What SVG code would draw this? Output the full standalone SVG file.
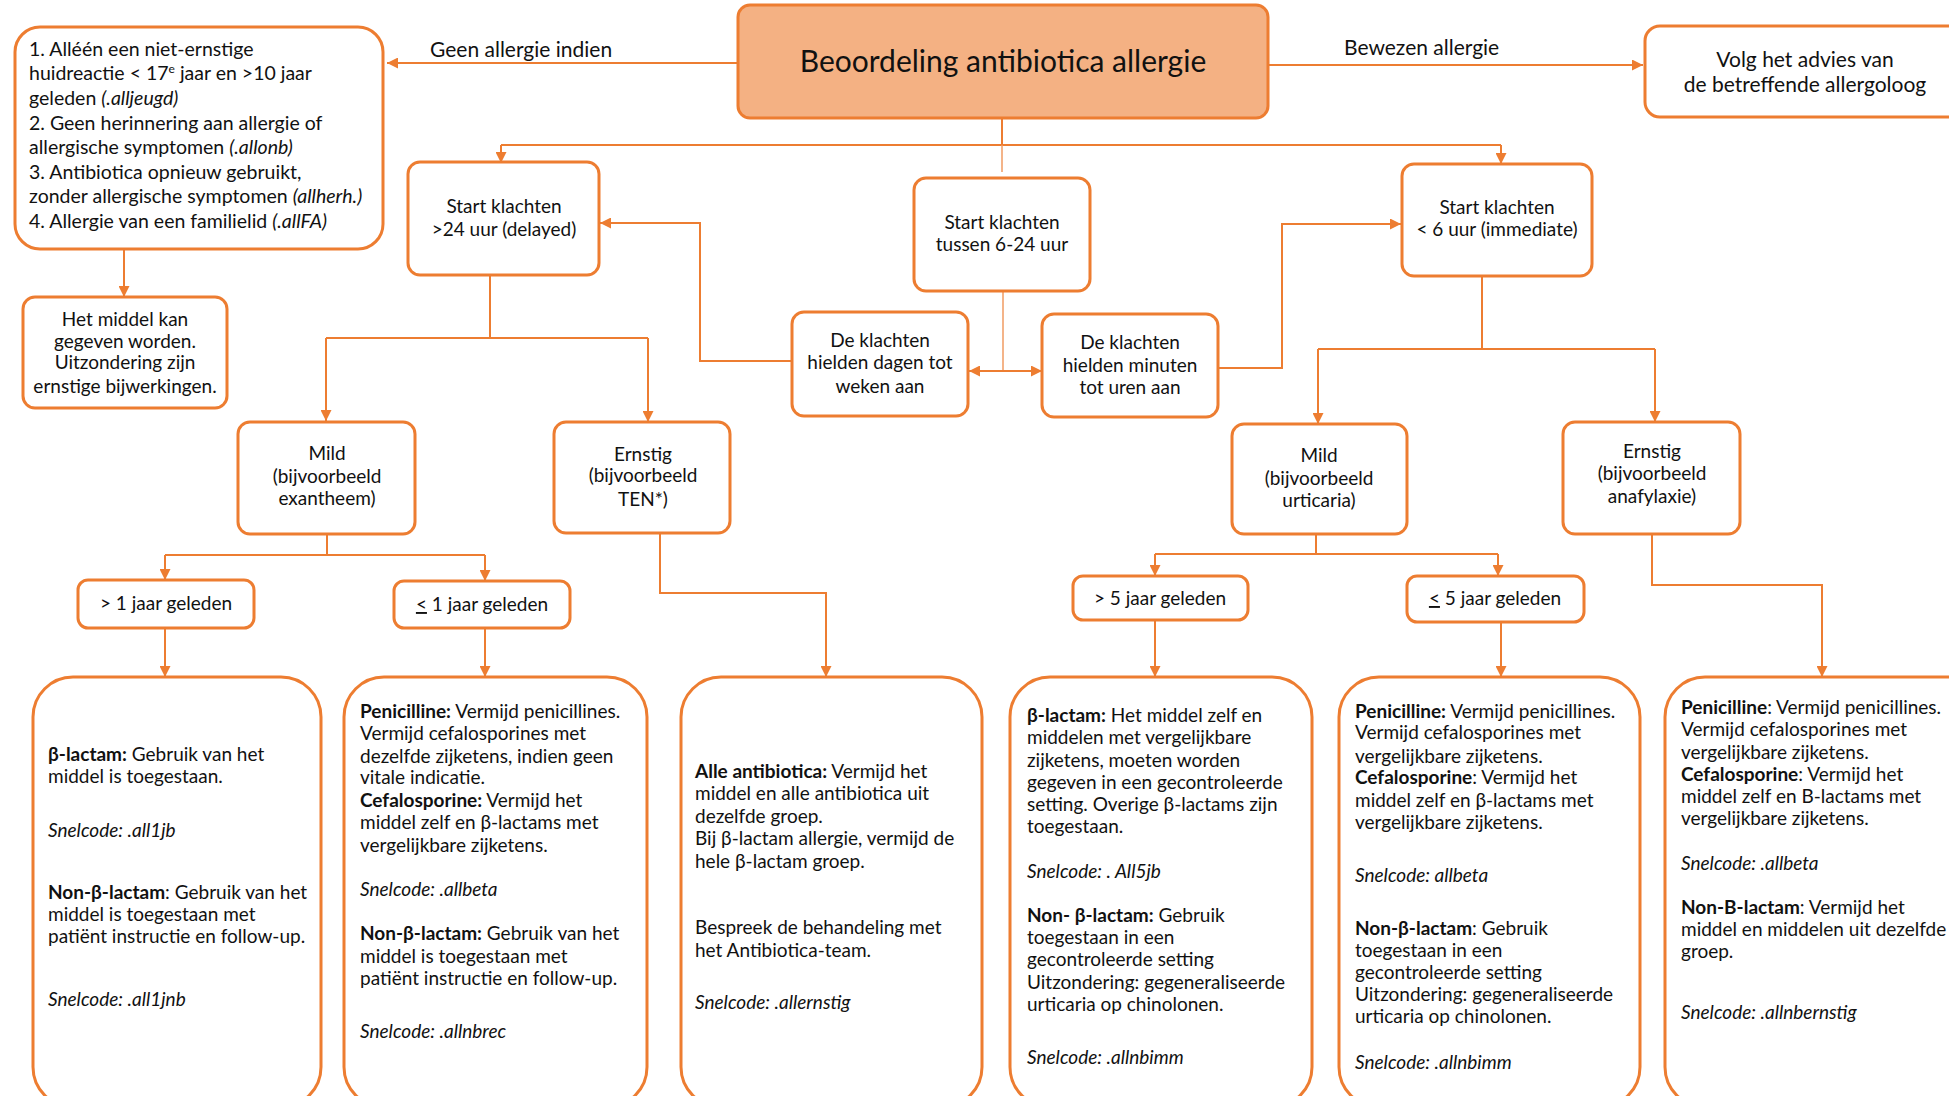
<svg xmlns="http://www.w3.org/2000/svg" width="1949" height="1096" viewBox="0 0 1949 1096">
<style>
text{font-family:Lato,"Liberation Sans",sans-serif;font-size:19px;fill:#111}
.c{text-anchor:middle}
.b{font-weight:bold}
.i{font-style:italic}
.box{fill:#fff;stroke:#ED7D31;stroke-width:3}
.ln{fill:none;stroke:#ED7D31;stroke-width:2}
.thin{fill:none;stroke:#F19B62;stroke-width:1.5}
text.lbl{font-size:21px}
text.title{font-size:30px}
text.tl{font-size:19.5px}
</style>
<defs>
<marker id="ah" viewBox="0 0 10 10" refX="10" refY="5" markerWidth="11" markerHeight="11" markerUnits="userSpaceOnUse" orient="auto">
<path d="M0,0 L10,5 L0,10 z" fill="#ED7D31"/>
</marker>
</defs>
<g id="connectors">
<path class="ln" d="M738 63 H387" marker-end="url(#ah)"/>
<path class="ln" d="M1268 65 H1643" marker-end="url(#ah)"/>
<path class="ln" d="M1002 118 V145" stroke-width="3"/>
<path class="ln" d="M501 145 H1501"/>
<path class="ln" d="M501 145 V163" marker-end="url(#ah)"/>
<path class="ln" d="M1501 145 V164" marker-end="url(#ah)"/>
<path class="thin" d="M1002 145 V172"/>
<path class="thin" d="M1003 291 V371"/>
<path class="ln" d="M1003 371 H969" marker-end="url(#ah)"/>
<path class="ln" d="M1003 371 H1042" marker-end="url(#ah)"/>
<path class="ln" d="M792 361 H700 V223 H600" marker-end="url(#ah)"/>
<path class="ln" d="M1218 368 H1282 V224 H1401" marker-end="url(#ah)"/>
<path class="ln" d="M490 275 V338"/>
<path class="ln" d="M326 338 H648"/>
<path class="ln" d="M326 338 V421" marker-end="url(#ah)"/>
<path class="ln" d="M648 338 V422" marker-end="url(#ah)"/>
<path class="ln" d="M327 534 V555"/>
<path class="ln" d="M165 555 H485"/>
<path class="ln" d="M165 555 V580" marker-end="url(#ah)"/>
<path class="ln" d="M485 555 V581" marker-end="url(#ah)"/>
<path class="ln" d="M165 628 V677" marker-end="url(#ah)"/>
<path class="ln" d="M485 628 V677" marker-end="url(#ah)"/>
<path class="ln" d="M660 533 V593 H826 V677" marker-end="url(#ah)"/>
<path class="ln" d="M1482 276 V349"/>
<path class="ln" d="M1318 349 H1655"/>
<path class="ln" d="M1318 349 V424" marker-end="url(#ah)"/>
<path class="ln" d="M1655 349 V422" marker-end="url(#ah)"/>
<path class="ln" d="M1316 534 V554"/>
<path class="ln" d="M1155 554 H1498"/>
<path class="ln" d="M1155 554 V576" marker-end="url(#ah)"/>
<path class="ln" d="M1498 554 V576" marker-end="url(#ah)"/>
<path class="ln" d="M1155 620 V677" marker-end="url(#ah)"/>
<path class="ln" d="M1501 622 V677" marker-end="url(#ah)"/>
<path class="ln" d="M1652 534 V585 H1822 V677" marker-end="url(#ah)"/>
<path class="ln" d="M124 249 V297" marker-end="url(#ah)"/>
</g>
<g id="edge-labels">
<text class="lbl" x="430" y="57">Geen allergie indien</text>
<text class="lbl" x="1344" y="55">Bewezen allergie</text>
</g>
<g id="main">
<rect x="738" y="5" width="530" height="113" rx="12" fill="#F4B183" stroke="#ED7D31" stroke-width="3"/>
<text class="c title" x="1003" y="72">Beoordeling antibiotica allergie</text>
</g>
<g id="geen-allergie">
<rect class="box" x="15" y="27" width="368" height="222" rx="25"/>
<text class="tl" x="29" y="56">1. Alléén een niet-ernstige</text>
<text class="tl" x="29" y="80">huidreactie &lt; 17<tspan dy="-7" font-size="12">e</tspan><tspan dy="7"> jaar en &gt;10 jaar</tspan></text>
<text class="tl" x="29" y="105">geleden <tspan class="i">(.alljeugd)</tspan></text>
<text class="tl" x="29" y="130">2. Geen herinnering aan allergie of</text>
<text class="tl" x="29" y="154">allergische symptomen <tspan class="i">(.allonb)</tspan></text>
<text class="tl" x="29" y="179">3. Antibiotica opnieuw gebruikt,</text>
<text class="tl" x="29" y="203">zonder allergische symptomen <tspan class="i">(allherh.)</tspan></text>
<text class="tl" x="29" y="228">4. Allergie van een familielid <tspan class="i">(.allFA)</tspan></text>
</g>
<g id="allergoloog">
<rect class="box" x="1645" y="26" width="360" height="91" rx="15"/>
<text class="c lbl" x="1805" y="67">Volg het advies van</text>
<text class="c lbl" x="1805" y="92">de betreffende allergoloog</text>
</g>
<g id="middel-kan">
<rect class="box" x="23" y="297" width="204" height="111" rx="12"/>
<text class="c" x="125" y="326">Het middel kan</text>
<text class="c" x="125" y="348">gegeven worden.</text>
<text class="c" x="125" y="369">Uitzondering zijn</text>
<text class="c" x="125" y="393">ernstige bijwerkingen.</text>
</g>
<g id="delayed">
<rect class="box" x="408" y="162" width="191" height="113" rx="12"/>
<text class="c" x="504" y="213">Start klachten</text>
<text class="c" x="504" y="236">&gt;24 uur (delayed)</text>
</g>
<g id="tussen">
<rect class="box" x="914" y="178" width="176" height="113" rx="12"/>
<text class="c" x="1002" y="229">Start klachten</text>
<text class="c" x="1002" y="251">tussen 6-24 uur</text>
</g>
<g id="immediate">
<rect class="box" x="1402" y="164" width="190" height="112" rx="12"/>
<text class="c" x="1497" y="214">Start klachten</text>
<text class="c" x="1497" y="236">&lt; 6 uur (immediate)</text>
</g>
<g id="dagen">
<rect class="box" x="792" y="312" width="176" height="104" rx="12"/>
<text class="c" x="880" y="347">De klachten</text>
<text class="c" x="880" y="369">hielden dagen tot</text>
<text class="c" x="880" y="393">weken aan</text>
</g>
<g id="minuten">
<rect class="box" x="1042" y="314" width="176" height="103" rx="12"/>
<text class="c" x="1130" y="349">De klachten</text>
<text class="c" x="1130" y="372">hielden minuten</text>
<text class="c" x="1130" y="394">tot uren aan</text>
</g>
<g id="mild-exantheem">
<rect class="box" x="238" y="422" width="177" height="112" rx="12"/>
<text class="c" x="327" y="460">Mild</text>
<text class="c" x="327" y="483">(bijvoorbeeld</text>
<text class="c" x="327" y="505">exantheem)</text>
</g>
<g id="ernstig-ten">
<rect class="box" x="554" y="422" width="176" height="111" rx="12"/>
<text class="c" x="643" y="461">Ernstig</text>
<text class="c" x="643" y="482">(bijvoorbeeld</text>
<text class="c" x="643" y="506">TEN*)</text>
</g>
<g id="mild-urticaria">
<rect class="box" x="1232" y="424" width="175" height="110" rx="12"/>
<text class="c" x="1319" y="462">Mild</text>
<text class="c" x="1319" y="485">(bijvoorbeeld</text>
<text class="c" x="1319" y="507">urticaria)</text>
</g>
<g id="ernstig-anafylaxie">
<rect class="box" x="1563" y="422" width="177" height="112" rx="12"/>
<text class="c" x="1652" y="458">Ernstig</text>
<text class="c" x="1652" y="480">(bijvoorbeeld</text>
<text class="c" x="1652" y="503">anafylaxie)</text>
</g>
<g id="meer-1-jaar">
<rect class="box" x="78" y="580" width="176" height="48" rx="10"/>
<text class="c" x="166" y="610">&gt; 1 jaar geleden</text>
</g>
<g id="max-1-jaar">
<rect class="box" x="394" y="581" width="176" height="47" rx="10"/>
<text class="c" x="482" y="611"><tspan text-decoration="underline">&lt;</tspan> 1 jaar geleden</text>
</g>
<g id="meer-5-jaar">
<rect class="box" x="1073" y="576" width="175" height="44" rx="10"/>
<text class="c" x="1160" y="605">&gt; 5 jaar geleden</text>
</g>
<g id="max-5-jaar">
<rect class="box" x="1407" y="576" width="177" height="46" rx="10"/>
<text class="c" x="1495" y="605"><tspan text-decoration="underline">&lt;</tspan> 5 jaar geleden</text>
</g>
<g id="advies-1">
<rect class="box" x="33" y="677" width="288" height="430" rx="40"/>
<text x="48" y="761"><tspan class="b">β-lactam:</tspan> Gebruik van het</text>
<text x="48" y="783">middel is toegestaan.</text>
<text x="48" y="837" class="i">Snelcode: .all1jb</text>
<text x="48" y="899"><tspan class="b">Non-β-lactam</tspan>: Gebruik van het</text>
<text x="48" y="921">middel is toegestaan met</text>
<text x="48" y="943">patiënt instructie en follow-up.</text>
<text x="48" y="1006" class="i">Snelcode: .all1jnb</text>
</g>
<g id="advies-2">
<rect class="box" x="344" y="677" width="303" height="430" rx="40"/>
<text x="360" y="718"><tspan class="b">Penicilline:</tspan>  Vermijd penicillines.</text>
<text x="360" y="740">Vermijd cefalosporines met</text>
<text x="360" y="763">dezelfde zijketens, indien geen</text>
<text x="360" y="784">vitale indicatie.</text>
<text x="360" y="807"><tspan class="b">Cefalosporine:</tspan> Vermijd het</text>
<text x="360" y="829">middel zelf en β-lactams met</text>
<text x="360" y="852">vergelijkbare zijketens.</text>
<text x="360" y="896" class="i">Snelcode: .allbeta</text>
<text x="360" y="940"><tspan class="b">Non-β-lactam:</tspan> Gebruik van het</text>
<text x="360" y="963">middel is toegestaan met</text>
<text x="360" y="985">patiënt instructie en follow-up.</text>
<text x="360" y="1038" class="i">Snelcode: .allnbrec</text>
</g>
<g id="advies-3">
<rect class="box" x="681" y="677" width="301" height="430" rx="40"/>
<text x="695" y="778"><tspan class="b">Alle antibiotica:</tspan> Vermijd het</text>
<text x="695" y="800">middel en alle antibiotica uit</text>
<text x="695" y="823">dezelfde groep.</text>
<text x="695" y="845">Bij β-lactam allergie, vermijd de</text>
<text x="695" y="868">hele β-lactam groep.</text>
<text x="695" y="934">Bespreek de behandeling met</text>
<text x="695" y="957">het Antibiotica-team.</text>
<text x="695" y="1009" class="i">Snelcode: .allernstig</text>
</g>
<g id="advies-4">
<rect class="box" x="1010" y="677" width="302" height="430" rx="40"/>
<text x="1027" y="722"> <tspan class="b">β-lactam:</tspan> Het middel zelf en</text>
<text x="1027" y="744">middelen met vergelijkbare</text>
<text x="1027" y="767">zijketens, moeten worden</text>
<text x="1027" y="789">gegeven in een gecontroleerde</text>
<text x="1027" y="811">setting. Overige β-lactams zijn</text>
<text x="1027" y="833">toegestaan.</text>
<text x="1027" y="878" class="i">Snelcode: . All5jb</text>
<text x="1027" y="922"><tspan class="b">Non- β-lactam:</tspan> Gebruik</text>
<text x="1027" y="944">toegestaan in een</text>
<text x="1027" y="966">gecontroleerde setting</text>
<text x="1027" y="989">Uitzondering: gegeneraliseerde</text>
<text x="1027" y="1011">urticaria op chinolonen.</text>
<text x="1027" y="1064" class="i">Snelcode: .allnbimm</text>
</g>
<g id="advies-5">
<rect class="box" x="1339" y="677" width="301" height="430" rx="40"/>
<text x="1355" y="718"><tspan class="b">Penicilline:</tspan> Vermijd penicillines.</text>
<text x="1355" y="739">Vermijd cefalosporines met</text>
<text x="1355" y="763">vergelijkbare zijketens.</text>
<text x="1355" y="784"><tspan class="b">Cefalosporine</tspan>: Vermijd het</text>
<text x="1355" y="807">middel zelf en β-lactams met</text>
<text x="1355" y="829">vergelijkbare zijketens.</text>
<text x="1355" y="882" class="i">Snelcode: allbeta</text>
<text x="1355" y="935"><tspan class="b">Non-β-lactam</tspan>: Gebruik</text>
<text x="1355" y="957">toegestaan in een</text>
<text x="1355" y="979">gecontroleerde setting</text>
<text x="1355" y="1001">Uitzondering: gegeneraliseerde</text>
<text x="1355" y="1023">urticaria op chinolonen.</text>
<text x="1355" y="1069" class="i">Snelcode: .allnbimm</text>
</g>
<g id="advies-6">
<rect class="box" x="1665" y="677" width="330" height="430" rx="40"/>
<text x="1681" y="714"><tspan class="b">Penicilline</tspan>: Vermijd penicillines.</text>
<text x="1681" y="736">Vermijd cefalosporines met</text>
<text x="1681" y="759">vergelijkbare zijketens.</text>
<text x="1681" y="781"><tspan class="b">Cefalosporine</tspan>: Vermijd het</text>
<text x="1681" y="803">middel zelf en B-lactams met</text>
<text x="1681" y="825">vergelijkbare zijketens.</text>
<text x="1681" y="870" class="i">Snelcode: .allbeta</text>
<text x="1681" y="914"><tspan class="b">Non-B-lactam</tspan>: Vermijd het</text>
<text x="1681" y="936">middel en middelen uit dezelfde</text>
<text x="1681" y="958">groep.</text>
<text x="1681" y="1019" class="i">Snelcode: .allnbernstig</text>
</g>
</svg>
